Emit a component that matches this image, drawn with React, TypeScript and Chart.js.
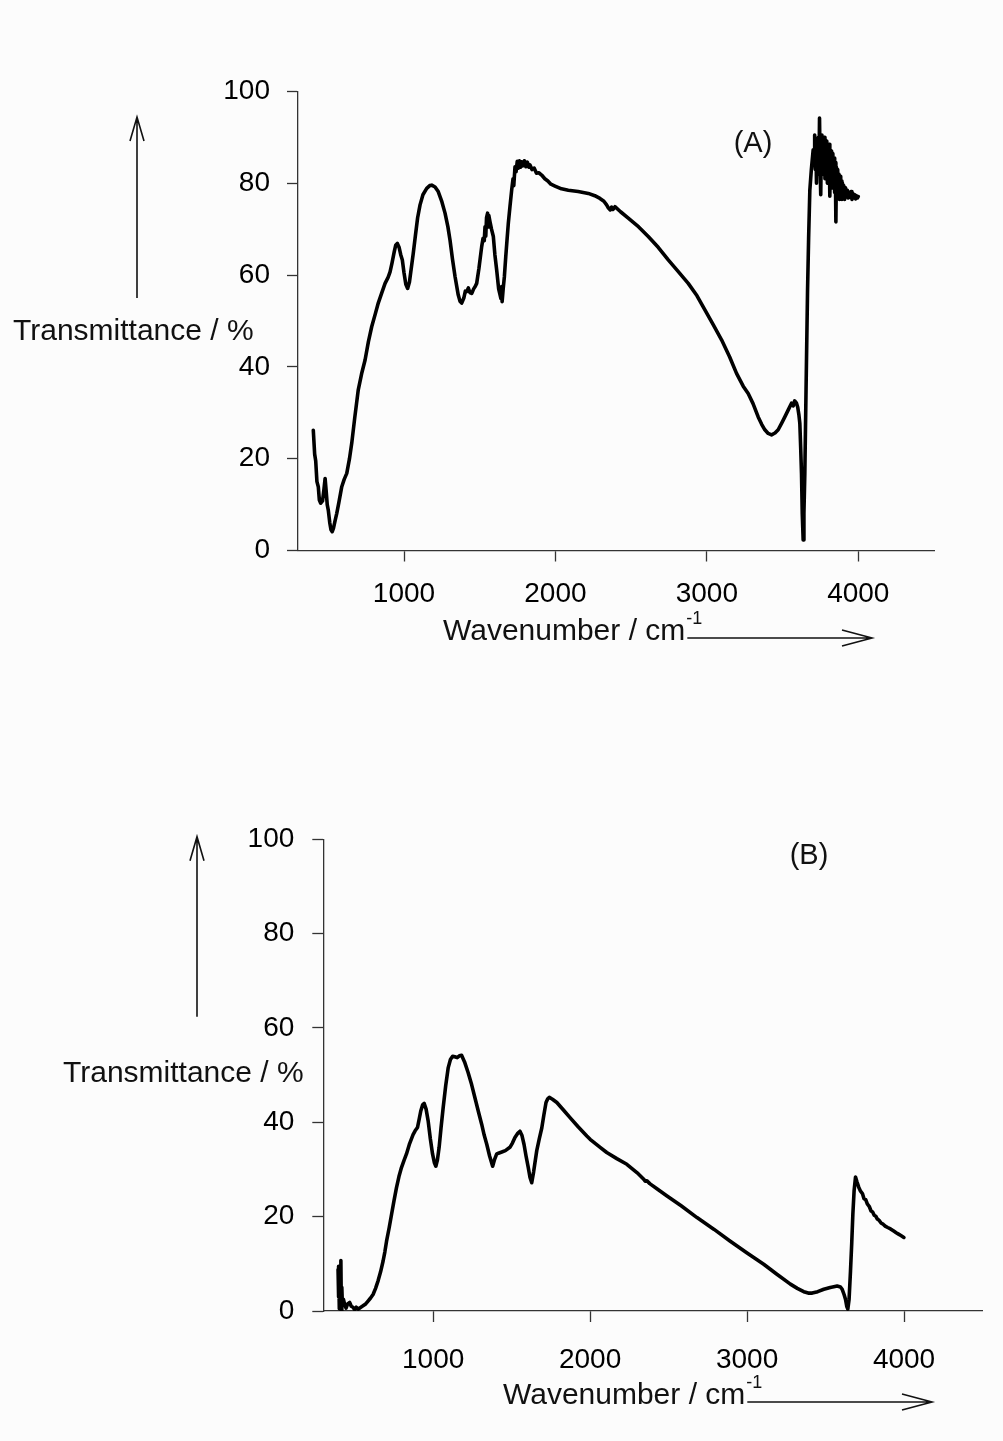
import React, { useEffect, useRef } from "react";
import { Chart, registerables } from "chart.js";

Chart.register(...registerables);

const FONT = '"Liberation Sans", Arial, Helvetica, sans-serif';

// Axis ticks shared by both spectra
const X_TICKS = [1000, 2000, 3000, 4000];
const Y_TICKS = [0, 20, 40, 60, 80, 100];

// Spectrum (A): wavenumber (cm-1) and transmittance (%)
const WAVENUMBER_A = [
  401, 410, 417, 425, 434, 441, 450, 462, 472, 479, 486, 493, 500, 510, 518, 526, 534, 545, 556, 570,
  589, 605, 622, 640, 655, 675, 698, 720, 743, 765, 787, 810, 830, 852, 875, 895, 908, 920, 935, 945,
  956, 968, 978, 989, 1000, 1012, 1024, 1036, 1048, 1061, 1075, 1090, 1106, 1125, 1150, 1170, 1183, 1205, 1226, 1250,
  1271, 1290, 1304, 1320, 1337, 1358, 1370, 1381, 1395, 1405, 1414, 1425, 1435, 1447, 1460, 1470, 1480, 1495, 1513, 1522,
  1530, 1535, 1540, 1545, 1552, 1556, 1560, 1568, 1578, 1590, 1600, 1612, 1625, 1632, 1640, 1645, 1648, 1655, 1663, 1672,
  1680, 1689, 1700, 1711, 1720, 1725, 1733, 1740, 1748, 1755, 1762, 1770, 1777, 1785, 1795, 1805, 1815, 1825, 1832, 1845,
  1860, 1875, 1890, 1909, 1930, 1950, 1970, 1997, 2040, 2085, 2150, 2217, 2260, 2294, 2320, 2338, 2350, 2362, 2371, 2380,
  2393, 2430, 2481, 2550, 2613, 2680, 2745, 2810, 2877, 2935, 2987, 3040, 3097, 3150, 3196, 3240, 3273, 3305, 3339, 3362,
  3383, 3405, 3427, 3450, 3471, 3495, 3515, 3540, 3559, 3570, 3580, 3592, 3600, 3608, 3614, 3620, 3625, 3630, 3636, 3641,
  3647, 3655, 3665, 3672, 3680, 3690, 3702, 3708, 3712, 3716, 3720, 3724, 3728, 3732, 3736, 3740, 3744, 3748, 3752, 3756,
  3760, 3764, 3768, 3772, 3776, 3780, 3784, 3788, 3792, 3796, 3800, 3804, 3808, 3812, 3816, 3820, 3824, 3828, 3832, 3836,
  3840, 3844, 3848, 3852, 3856, 3860, 3864, 3868, 3872, 3876, 3880, 3884, 3888, 3892, 3896, 3900, 3904, 3910, 3916, 3922,
  3928, 3934, 3940, 3946, 3952, 3958, 3964, 3970, 3976, 3982, 3988, 3994, 4000,
];
const TRANSMITTANCE_A = [
  26.2, 21.0, 19.5, 15.0, 13.9, 11.0, 10.3, 10.8, 13.5, 15.7, 13.0, 10.0, 8.8, 6.0, 4.5, 4.1, 4.8, 6.5, 8.1, 10.5,
  13.9, 15.5, 16.8, 20.0, 23.4, 29.0, 35.0, 38.5, 41.5, 45.5, 48.8, 51.5, 53.9, 56.0, 58.2, 59.5, 60.7, 62.5, 65.0, 66.5,
  66.9, 66.0, 64.5, 63.3, 60.5, 58.0, 57.1, 58.5, 61.5, 64.7, 68.5, 72.5, 75.3, 77.5, 78.9, 79.5, 79.6, 79.2, 78.2, 76.0,
  73.5, 70.5, 67.6, 63.5, 59.7, 55.7, 54.3, 53.9, 55.0, 56.5, 56.4, 57.2, 56.2, 56.0, 57.0, 57.5, 58.2, 61.5, 66.2, 68.0,
  67.5, 70.5, 68.5, 72.5, 73.5, 70.5, 73.0, 71.6, 70.0, 68.4, 64.5, 61.1, 57.0, 56.0, 54.9, 57.5, 54.2, 57.0, 59.7, 64.0,
  67.5, 71.3, 75.0, 78.5, 81.0, 79.5, 83.6, 82.5, 84.8, 83.3, 84.9, 83.5, 84.7, 83.8, 84.9, 83.6, 84.6, 83.5, 84.0, 83.0,
  83.3, 82.2, 82.3, 81.8, 81.0, 80.5, 79.8, 79.4, 78.8, 78.5, 78.2, 77.8, 77.3, 76.7, 76.1, 75.3, 74.6, 74.2, 74.8, 74.3,
  74.9, 73.8, 72.4, 70.5, 68.4, 66.0, 63.3, 60.8, 58.2, 55.5, 52.4, 49.3, 45.9, 42.2, 38.6, 35.8, 34.2, 32.0, 29.1, 27.5,
  26.3, 25.5, 25.2, 25.6, 26.3, 27.8, 29.1, 30.8, 32.1, 31.5, 32.6, 32.1, 31.2, 29.5, 27.7, 22.0, 16.8, 8.0, 2.3, 8.0,
  16.8, 35.0, 56.8, 68.0, 78.5, 83.0, 87.3, 86.0, 90.5, 83.0, 88.5, 80.0, 89.5, 85.0, 90.0, 82.0, 94.2, 84.0, 77.5, 88.0,
  90.5, 82.0, 89.0, 86.0, 90.0, 81.0, 88.5, 84.0, 89.2, 80.0, 87.5, 83.0, 88.5, 77.2, 86.0, 82.0, 87.0, 79.0, 86.5, 81.5,
  85.5, 78.0, 84.5, 71.6, 83.5, 77.0, 83.0, 78.5, 82.0, 76.5, 81.5, 78.0, 80.5, 76.5, 80.0, 77.5, 79.5, 76.5, 79.0, 77.0,
  78.5, 76.8, 78.0, 77.0, 78.2, 76.5, 77.8, 76.8, 77.5, 76.6, 77.3, 76.8, 77.1,
];

// Spectrum (B): wavenumber (cm-1) and transmittance (%)
const WAVENUMBER_B = [
  394, 396, 399, 402, 405, 408, 412, 415, 418, 422, 428, 436, 445, 455, 468, 478, 489, 500, 510, 521,
  535, 553, 570, 585, 600, 617, 633, 649, 665, 681, 692, 703, 720, 735, 750, 766, 782, 798, 815, 830,
  850, 872, 885, 900, 910, 921, 933, 943, 955, 968, 982, 996, 1008, 1017, 1027, 1038, 1050, 1064, 1080, 1096,
  1110, 1124, 1138, 1153, 1167, 1181, 1200, 1223, 1245, 1266, 1288, 1309, 1325, 1341, 1360, 1379, 1392, 1405, 1420, 1437,
  1460, 1489, 1505, 1521, 1537, 1553, 1566, 1579, 1592, 1606, 1617, 1628, 1640, 1660, 1676, 1692, 1705, 1719, 1730, 1740,
  1760, 1788, 1830, 1872, 1925, 1979, 2000, 2064, 2106, 2170, 2234, 2300, 2340, 2351, 2362, 2380, 2430, 2490, 2580, 2681,
  2790, 2893, 3000, 3106, 3190, 3276, 3320, 3361, 3390, 3415, 3450, 3489, 3530, 3574, 3595, 3606, 3618, 3627, 3635, 3642,
  3650, 3659, 3667, 3674, 3682, 3691, 3700, 3712, 3723, 3735, 3745, 3756, 3766, 3778, 3790, 3800, 3810, 3820, 3830, 3842,
  3855, 3867, 3880, 3896, 3914, 3932, 3950, 3965, 3980, 3999,
];
const TRANSMITTANCE_B = [
  8.8, 3.0, 9.5, 0.5, 7.0, 1.0, 10.7, 0.0, 5.0, 1.0, 2.5, 1.4, 0.6, 1.5, 1.8, 1.0, 0.8, 0.3, 0.8, 0.4,
  0.7, 1.1, 1.5, 2.1, 2.7, 3.5, 4.8, 6.4, 8.3, 10.6, 12.5, 14.8, 17.7, 20.5, 23.3, 26.1, 28.5, 30.4, 32.0, 33.3,
  35.5, 37.4, 38.2, 38.9, 40.5, 42.4, 43.7, 44.0, 42.8, 40.3, 36.5, 33.3, 31.4, 30.7, 32.0, 34.7, 38.8, 43.2, 47.8, 51.6,
  53.3, 54.0, 53.9, 53.7, 54.1, 54.2, 52.8, 50.5, 48.0, 45.2, 42.3, 39.6, 37.3, 35.4, 32.8, 30.7, 32.2, 33.3, 33.5, 33.7,
  34.0, 34.7, 35.6, 36.8, 37.6, 38.1, 37.2, 35.3, 32.8, 30.4, 28.3, 27.2, 29.5, 34.0, 36.5, 38.8, 41.5, 44.2, 45.0, 45.3,
  44.9, 44.2, 42.6, 41.0, 39.0, 37.1, 36.4, 34.7, 33.6, 32.3, 31.1, 29.3, 28.0, 27.5, 27.6, 27.0, 25.8, 24.4, 22.3, 19.8,
  17.3, 14.8, 12.3, 9.9, 7.8, 5.7, 4.8, 4.1, 3.8, 3.8, 4.1, 4.6, 5.0, 5.3, 5.1, 4.6, 3.5, 2.5, 1.0, 0.4,
  2.5, 8.5, 14.5, 20.5, 25.5, 28.4, 27.4, 26.2, 25.4, 24.9, 23.8, 23.6, 22.7, 22.2, 21.2, 21.0, 20.3, 20.1, 19.5, 19.2,
  18.6, 18.4, 18.0, 17.7, 17.4, 17.0, 16.6, 16.3, 16.0, 15.6,
];

type Decoration = {
  yTitleX: number;
  yTitleY: number;
  arrowX: number;
  arrowTop: number;
  arrowBottom: number;
  xTitleX: number;
  xTitleY: number;
  xArrowEnd: number;
  tag: string;
  tagX: number;
  tagY: number;
};

type PanelProps = {
  wavenumbers: number[];
  values: number[];
  top: number;
  height: number;
  padding: { top: number; right: number; bottom: number; left: number };
  yAxisWidth: number;
  xTickPadding: number;
  yTickPadding: number;
  deco: Decoration;
};

const INK = "#111";

function drawDecorations(ctx: CanvasRenderingContext2D, d: Decoration) {
  ctx.save();
  ctx.fillStyle = INK;
  ctx.strokeStyle = INK;
  ctx.lineWidth = 1.6;
  ctx.textBaseline = "alphabetic";

  // y-axis caption with upward arrow
  ctx.font = `30px ${FONT}`;
  ctx.textAlign = "left";
  ctx.fillText("Transmittance / %", d.yTitleX, d.yTitleY);

  ctx.beginPath();
  ctx.moveTo(d.arrowX, d.arrowBottom);
  ctx.lineTo(d.arrowX, d.arrowTop);
  ctx.moveTo(d.arrowX - 7, d.arrowTop + 24);
  ctx.lineTo(d.arrowX, d.arrowTop);
  ctx.lineTo(d.arrowX + 7, d.arrowTop + 24);
  ctx.stroke();

  // x-axis caption with superscript and rightward arrow
  ctx.font = `30px ${FONT}`;
  const main = "Wavenumber / cm";
  ctx.fillText(main, d.xTitleX, d.xTitleY);
  const w = ctx.measureText(main).width;
  ctx.font = `18px ${FONT}`;
  ctx.fillText("-1", d.xTitleX + w + 1, d.xTitleY - 16);

  const ay = d.xTitleY - 2;
  ctx.beginPath();
  ctx.moveTo(d.xTitleX + w + 2, ay);
  ctx.lineTo(d.xArrowEnd, ay);
  ctx.moveTo(d.xArrowEnd - 30, ay - 8);
  ctx.lineTo(d.xArrowEnd, ay);
  ctx.lineTo(d.xArrowEnd - 30, ay + 8);
  ctx.stroke();

  // panel tag
  ctx.font = `29px ${FONT}`;
  ctx.textAlign = "center";
  ctx.fillText(d.tag, d.tagX, d.tagY);
  ctx.restore();
}

function SpectrumPanel(props: PanelProps) {
  const ref = useRef<HTMLCanvasElement | null>(null);

  useEffect(() => {
    const canvas = ref.current;
    if (!canvas) return;
    const points = props.wavenumbers.map((x, i) => ({ x, y: props.values[i] }));
    const deco = props.deco;

    const axisGrid = {
      display: true,
      drawOnChartArea: false,
      drawTicks: true,
      tickLength: 11,
      tickWidth: 1.3,
      tickColor: "#333",
    };
    const axisBorder = { display: true, color: "#333", width: 1.3 };

    const chart = new Chart(canvas, {
      type: "line",
      data: {
        datasets: [
          {
            data: points,
            borderColor: "#000",
            borderWidth: 3.6,
            pointRadius: 0,
            tension: 0,
            fill: false,
            borderJoinStyle: "round",
            borderCapStyle: "round",
          },
        ],
      },
      options: {
        animation: false,
        responsive: false,
        maintainAspectRatio: false,
        devicePixelRatio: 1,
        layout: { padding: props.padding },
        plugins: { legend: { display: false }, tooltip: { enabled: false } },
        scales: {
          x: {
            type: "linear",
            min: 300,
            max: 4500,
            grid: axisGrid,
            border: axisBorder,
            afterBuildTicks: (scale: any) => {
              scale.ticks = X_TICKS.map((value) => ({ value }));
            },
            afterFit: (scale: any) => {
              scale.height = 100;
            },
            ticks: {
              color: "#000",
              padding: props.xTickPadding,
              maxRotation: 0,
              autoSkip: false,
              font: { family: FONT, size: 28 },
              callback: (v: any) => String(v),
            },
          },
          y: {
            type: "linear",
            min: 0,
            max: 100,
            grid: axisGrid,
            border: axisBorder,
            afterBuildTicks: (scale: any) => {
              scale.ticks = Y_TICKS.map((value) => ({ value }));
            },
            afterFit: (scale: any) => {
              scale.width = props.yAxisWidth;
            },
            ticks: {
              color: "#000",
              padding: props.yTickPadding,
              autoSkip: false,
              font: { family: FONT, size: 28 },
              callback: (v: any) => String(v),
            },
          },
        },
      },
      plugins: [
        {
          id: "panelDecorations",
          afterDraw: (c: any) => drawDecorations(c.ctx, deco),
        },
      ],
    } as any);

    return () => chart.destroy();
  }, []);

  return (
    <canvas
      ref={ref}
      width={1003}
      height={props.height}
      style={{ position: "absolute", left: 0, top: props.top, width: 1003, height: props.height }}
    />
  );
}

export default function App() {
  return (
    <div
      style={{
        position: "absolute",
        left: 0,
        top: 0,
        width: 1003,
        height: 1441,
        background: "#fcfcfc",
        overflow: "hidden",
      }}
    >
      <SpectrumPanel
        wavenumbers={WAVENUMBER_A}
        values={TRANSMITTANCE_A}
        top={0}
        height={700}
        padding={{ top: 91.5, right: 69, bottom: 49.5, left: 0 }}
        yAxisWidth={298}
        xTickPadding={15.5}
        yTickPadding={17}
        deco={{
          yTitleX: 13,
          yTitleY: 340,
          arrowX: 137,
          arrowTop: 117,
          arrowBottom: 298,
          xTitleX: 443,
          xTitleY: 640,
          xArrowEnd: 872,
          tag: "(A)",
          tagX: 753,
          tagY: 152,
        }}
      />
      <SpectrumPanel
        wavenumbers={WAVENUMBER_B}
        values={TRANSMITTANCE_B}
        top={720}
        height={721}
        padding={{ top: 119.3, right: 20.5, bottom: 30, left: 0 }}
        yAxisWidth={323.3}
        xTickPadding={21.5}
        yTickPadding={18}
        deco={{
          yTitleX: 63,
          yTitleY: 361.7,
          arrowX: 197,
          arrowTop: 116.7,
          arrowBottom: 296.7,
          xTitleX: 503,
          xTitleY: 684,
          xArrowEnd: 932,
          tag: "(B)",
          tagX: 809,
          tagY: 144,
        }}
      />
    </div>
  );
}
